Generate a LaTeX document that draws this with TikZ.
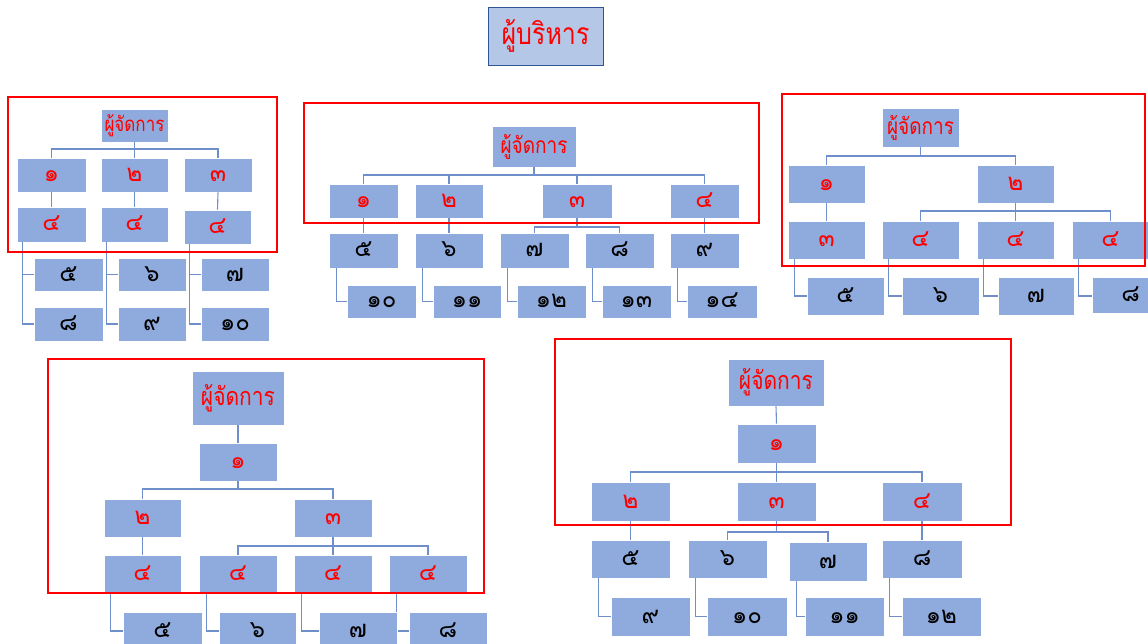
\documentclass[tikz,border=0pt]{standalone}
\usepackage{fontspec}
\usepackage{graphicx}
\newfontfamily\thai[Script=Thai]{Loma}
\definecolor{boxblue}{HTML}{8FAADC}
\definecolor{titleblue}{HTML}{B4C7E7}
\definecolor{titleedge}{HTML}{2F5597}
\definecolor{connblue}{HTML}{6F8FCB}
\definecolor{tred}{HTML}{FF0000}
\newcommand{\tall}[1]{\scalebox{1}[1.2]{#1}}
\tikzset{
  box/.style={rectangle, fill=boxblue, draw=white, line width=0.6pt, inner sep=0pt,
    font=\thai\fontsize{24}{24}\selectfont, text height=1.3em, text depth=0pt},
  mgr/.style={rectangle, fill=boxblue, draw=white, line width=0.6pt, inner sep=0pt,
    font=\thai\fontsize{#1}{#1}\selectfont},
  titlebox/.style={rectangle, fill=titleblue, draw=titleedge, line width=0.9pt, inner sep=0pt,
    font=\thai\fontsize{25}{25}\selectfont},
  conn/.style={draw=connblue, line width=1.1pt},
  frame/.style={draw=tred, line width=2.6pt},
}
% \bx[style]{name}{x1}{y1}{x2}{y2}{text}{colour}
\newcommand{\bx}[8][box]{%
  \node[#1, text=#8, minimum width={#5-#3}, minimum height={#6-#4}]
    (#2) at ({(#3+#5)/2},{(#4+#6)/2}) {#7};}
\begin{document}
\begin{tikzpicture}[x=1pt,y=-1pt]
\useasboundingbox (0,0) rectangle (1148,644);
\clip (0,0) rectangle (1148,644);
\fill[white] (0,0) rectangle (1148,644);

% ---------- title ----------
\bx[titlebox]{top}{488}{7}{603}{65}{\tall{ผู้บริหาร}}{tred}

% ---------- chart A ----------
\coordinate (bA) at (0,149);
\bx[mgr=17]{Am}{101}{109}{168}{142}{\tall{ผู้จัดการ}}{tred}
\bx{A1}{17}{158}{86}{192}{๑}{tred}
\bx{A2}{101}{158}{168}{192}{๒}{tred}
\bx{A3}{184}{158}{252}{192}{๓}{tred}
\bx{A4}{17}{207}{86}{242}{๔}{tred}
\bx{A5}{101}{207}{168}{242}{๔}{tred}
\bx{A6}{184}{210}{251}{244}{๔}{tred}
\draw[conn] (Am.south) -- (Am.south |- bA);
\draw[conn] (A1.north) -- (A1.north |- bA) -- (A3.north |- bA) -- (A3.north);
\draw[conn] (A2.north) -- (A2.north |- bA);
\draw[conn] (A1.south) -- (A4.north);
\draw[conn] (A2.south) -- (A5.north);
\draw[conn] (A3.south) -- (A6.north);
\draw[conn] ([xshift=6pt]A4.south west) |- (34,324);
\draw[conn] ([xshift=6pt]A5.south west) |- (118,324);
\draw[conn] ([xshift=6pt]A6.south west) |- (201,324);
\draw[conn] ([xshift=6pt]A4.south west) |- (34,274.5);
\draw[conn] ([xshift=6pt]A5.south west) |- (118,274.5);
\draw[conn] ([xshift=6pt]A6.south west) |- (201,274.5);
\bx{A7}{34}{258}{103}{291}{๕}{black}
\bx{A8}{118}{258}{186}{291}{๖}{black}
\bx{A9}{201}{258}{269}{291}{๗}{black}
\bx{A10}{34}{307}{103}{341}{๘}{black}
\bx{A11}{118}{307}{186}{341}{๙}{black}
\bx{A12}{201}{307}{269}{341}{๑๐}{black}

% ---------- chart B ----------
\coordinate (bB) at (0,175);
\coordinate (bB3) at (0,227);
\bx[mgr=19]{Bm}{492}{126}{576}{167}{\tall{ผู้จัดการ}}{tred}
\bx{B1}{329}{184}{398}{218}{๑}{tred}
\bx{B2}{415}{184}{483}{218}{๒}{tred}
\bx{B3}{542}{184}{612}{218}{๓}{tred}
\bx{B4}{670}{184}{739}{218}{๔}{tred}
\bx{B5}{329}{233}{398}{268}{๕}{black}
\bx{B6}{415}{233}{483}{268}{๖}{black}
\bx{B7}{500}{233}{569}{268}{๗}{black}
\bx{B8}{585}{233}{654}{268}{๘}{black}
\bx{B9}{670}{233}{739}{268}{๙}{black}
\draw[conn] (Bm.south) -- (Bm.south |- bB);
\draw[conn] (B1.north) -- (B1.north |- bB) -- (B4.north |- bB) -- (B4.north);
\draw[conn] (B2.north) -- (B2.north |- bB);
\draw[conn] (B3.north) -- (B3.north |- bB);
\draw[conn] (B1.south) -- (B5.north);
\draw[conn] (B2.south) -- (B6.north);
\draw[conn] (B4.south) -- (B9.north);
\draw[conn] (B3.south) -- (B3.south |- bB3);
\draw[conn] (B7.north) -- (B7.north |- bB3) -- (B8.north |- bB3) -- (B8.north);
\draw[conn] ([xshift=8pt]B5.south west) |- (347,301.5);
\draw[conn] ([xshift=8pt]B6.south west) |- (433,301.5);
\draw[conn] ([xshift=8pt]B7.south west) |- (517,301.5);
\draw[conn] ([xshift=8pt]B8.south west) |- (602,301.5);
\draw[conn] ([xshift=8pt]B9.south west) |- (687,301.5);
\bx{B10}{347}{285}{416}{318}{๑๐}{black}
\bx{B11}{433}{285}{501}{318}{๑๑}{black}
\bx{B12}{517}{285}{586}{318}{๑๒}{black}
\bx{B13}{602}{285}{671}{318}{๑๓}{black}
\bx{B14}{687}{285}{757}{318}{๑๔}{black}

% ---------- chart C ----------
\coordinate (bC) at (0,156);
\coordinate (bC2) at (0,211);
\bx[mgr=19]{Cm}{882}{108}{959}{147}{\tall{ผู้จัดการ}}{tred}
\bx{C1}{788}{165}{865}{203}{๑}{tred}
\bx{C2}{977}{165}{1054}{203}{๒}{tred}
\bx{C3}{788}{221}{865}{259}{๓}{tred}
\bx{C4}{882}{221}{959}{259}{๔}{tred}
\bx{C5}{977}{221}{1054}{259}{๔}{tred}
\bx{C6}{1072}{221}{1149}{259}{๔}{tred}
\draw[conn] (Cm.south) -- (Cm.south |- bC);
\draw[conn] (C1.north) -- (C1.north |- bC) -- (C2.north |- bC) -- (C2.north);
\draw[conn] (C1.south) -- (C3.north);
\draw[conn] (C2.south) -- (C2.south |- bC2);
\draw[conn] (C4.north) -- (C4.north |- bC2) -- (C6.north |- bC2) -- (C6.north);
\draw[conn] (C5.north) -- (C5.north |- bC2);
\draw[conn] ([xshift=7pt]C3.south west) |- (807,296);
\draw[conn] ([xshift=7pt]C4.south west) |- (902,296);
\draw[conn] ([xshift=7pt]C5.south west) |- (998,296);
\draw[conn] ([xshift=7pt]C6.south west) |- (1092,296);
\bx{C7}{807}{277}{884}{315}{๕}{black}
\bx{C8}{902}{277}{979}{315}{๖}{black}
\bx{C9}{998}{277}{1074}{315}{๗}{black}
\bx{C10}{1092}{277}{1169}{313}{๘}{black}

% ---------- chart D ----------
\coordinate (bD) at (0,489);
\coordinate (bD3) at (0,546);
\bx[mgr=21]{Dm}{192}{371}{284}{425}{\tall{ผู้จัดการ}}{tred}
\bx{D1}{199}{443}{277}{481}{๑}{tred}
\bx{D2}{104}{499}{181}{537}{๒}{tred}
\bx{D3}{294}{499}{372}{537}{๓}{tred}
\bx{D4}{104}{555}{181}{592}{๔}{tred}
\bx{D5}{199}{555}{277}{592}{๔}{tred}
\bx{D6}{294}{555}{372}{592}{๔}{tred}
\bx{D7}{389}{555}{467}{592}{๔}{tred}
\draw[conn] (Dm.south) -- (D1.north);
\draw[conn] (D1.south) -- (D1.south |- bD);
\draw[conn] (D2.north) -- (D2.north |- bD) -- (D3.north |- bD) -- (D3.north);
\draw[conn] (D2.south) -- (D4.north);
\draw[conn] (D3.south) -- (D3.south |- bD3);
\draw[conn] (D5.north) -- (D5.north |- bD3) -- (D7.north |- bD3) -- (D7.north);
\draw[conn] (D6.north) -- (D6.north |- bD3);
\draw[conn] ([xshift=7pt]D4.south west) |- (123,631);
\draw[conn] ([xshift=8pt]D5.south west) |- (219,631);
\draw[conn] ([xshift=8pt]D6.south west) |- (319,631);
\draw[conn] ([xshift=8pt]D7.south west) |- (409,631);
\bx{D8}{123}{612}{202}{650}{๕}{black}
\bx{D9}{219}{612}{296}{650}{๖}{black}
\bx{D10}{319}{612}{397}{650}{๗}{black}
\bx{D11}{409}{612}{487}{650}{๘}{black}

% ---------- chart E ----------
\coordinate (bE) at (0,472);
\coordinate (bE3) at (0,532);
\bx[mgr=21]{Em}{728}{359}{824}{406}{\tall{ผู้จัดการ}}{tred}
\bx{E1}{737}{424}{816}{463}{๑}{tred}
\bx{E2}{591}{482}{670}{521}{๒}{tred}
\bx{E3}{737}{482}{816}{521}{๓}{tred}
\bx{E4}{882}{482}{962}{521}{๔}{tred}
\bx{E5}{591}{540}{670}{578}{๕}{black}
\bx{E6}{688}{540}{767}{578}{๖}{black}
\bx{E7}{789}{542}{867}{581}{๗}{black}
\bx{E8}{882}{540}{962}{578}{๘}{black}
\draw[conn] (Em.south) -- (E1.north);
\draw[conn] (E1.south) -- (E1.south |- bE);
\draw[conn] (E2.north) -- (E2.north |- bE) -- (E4.north |- bE) -- (E4.north);
\draw[conn] (E3.north) -- (E3.north |- bE);
\draw[conn] (E2.south) -- (E5.north);
\draw[conn] (E4.south) -- (E8.north);
\draw[conn] (E3.south) -- (E3.south |- bE3);
\draw[conn] (E6.north) -- (E6.north |- bE3) -- (E7.north |- bE3) -- (E7.north);
\draw[conn] ([xshift=8pt]E5.south west) |- (611,616.5);
\draw[conn] ([xshift=8pt]E6.south west) |- (707,616.5);
\draw[conn] ([xshift=8pt]E7.south west) |- (805,616.5);
\draw[conn] ([xshift=8pt]E8.south west) |- (902,616.5);
\bx{E9}{611}{597}{690}{636}{๙}{black}
\bx{E10}{707}{597}{787}{636}{๑๐}{black}
\bx{E11}{805}{597}{884}{636}{๑๑}{black}
\bx{E12}{902}{597}{981}{636}{๑๒}{black}

% ---------- red frames ----------
\draw[frame] (8,97) rectangle (277,252);
\draw[frame] (304,103) rectangle (759,223);
\draw[frame] (782,94) rectangle (1145,266);
\draw[frame] (48,359) rectangle (484,593);
\draw[frame] (555,339) rectangle (1011,525);
\end{tikzpicture}
\end{document}
